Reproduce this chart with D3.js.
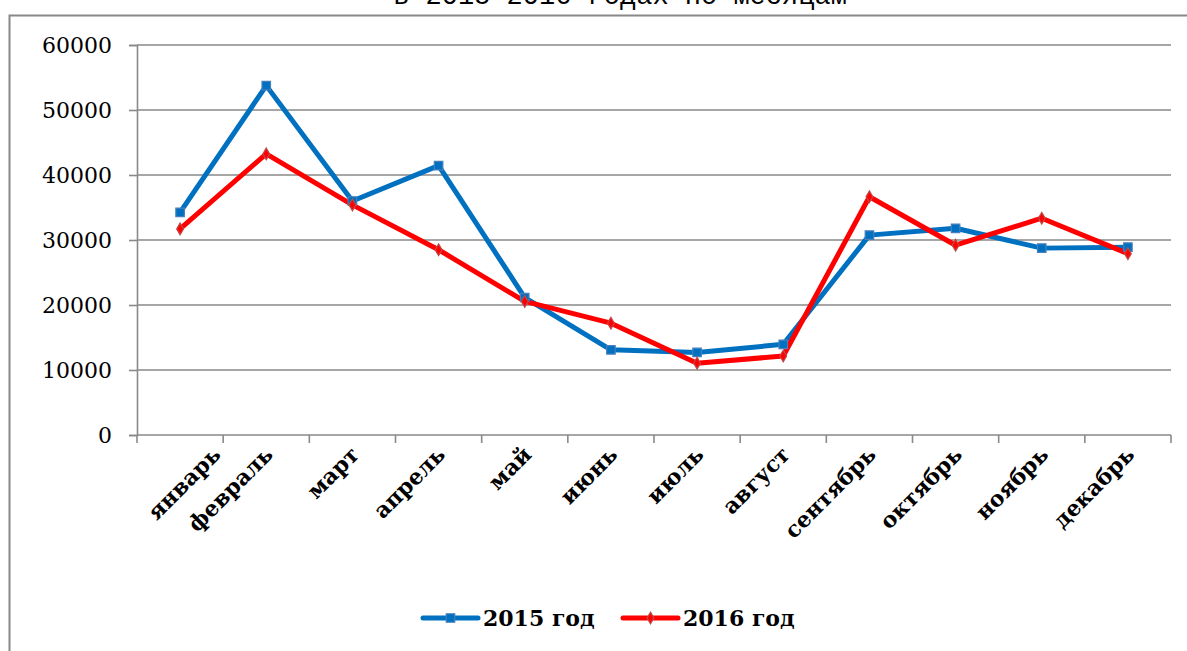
<!DOCTYPE html>
<html><head><meta charset="utf-8">
<script src="https://cdn.jsdelivr.net/npm/d3@7"></script>
<style>
html,body{margin:0;padding:0;background:#fff;overflow:hidden;}
svg{display:block;}
</style></head>
<body>
<svg id="chart" width="1187" height="651"></svg>
<script>
const titleText = "в 2015-2016 годах по месяцам";
const months = ["январь","февраль","март","апрель","май","июнь","июль","август","сентябрь","октябрь","ноябрь","декабрь"];
const values2015 = [34250, 53750, 36000, 41450, 21150, 13100, 12700, 13950, 30750, 31800, 28750, 28900];
const values2016 = [31700, 43250, 35400, 28500, 20550, 17200, 11050, 12150, 36650, 29200, 33350, 27900];
const yTicks = [0, 10000, 20000, 30000, 40000, 50000, 60000];
const seriesNames = ["2015 год", "2016 год"];

const svg = d3.select("#chart");
const gridColor = "#898989";
const blue = "#0070C0", red = "#FF0000";

// frame
svg.append("rect").attr("x", 9.5).attr("y", 15.5).attr("width", 1300).attr("height", 800)
  .attr("fill", "none").attr("stroke", "#888").attr("stroke-width", 2);

// title (mostly cut off at top, as in the reference)
svg.append("text").attr("x", 620).attr("y", 4).attr("text-anchor", "middle")
  .attr("font-family", "Liberation Mono, monospace").attr("font-size", 27)
  .attr("fill", "#000").text(titleText);

const x = d3.scaleBand().domain(months).range([137, 1171]).paddingInner(0).paddingOuter(0);
const y = d3.scaleLinear().domain([0, 60000]).range([435, 45]);

// gridlines
svg.append("g").selectAll("line").data(yTicks.filter(d => d > 0)).join("line")
  .attr("x1", 137).attr("x2", 1171)
  .attr("y1", d => y(d)).attr("y2", d => y(d))
  .attr("stroke", gridColor).attr("stroke-width", 1.6);

// y axis
const yAxis = svg.append("g").attr("transform", "translate(137,0)")
  .call(d3.axisLeft(y).tickValues(yTicks).tickSize(8).tickPadding(17).tickFormat(d3.format("d")));
yAxis.select(".domain").attr("stroke", gridColor).attr("stroke-width", 1.6);
yAxis.selectAll(".tick line").attr("stroke", gridColor).attr("stroke-width", 1.6);
yAxis.selectAll(".tick text").attr("font-family", "DejaVu Serif, serif").attr("font-size", 22)
  .attr("fill", "#000").attr("dy", "0.36em");

// x axis line + ticks at band edges
const edges = months.map(m => x(m)).concat([x.range()[1]]);
svg.append("line").attr("x1", 137).attr("x2", 1171).attr("y1", y(0)).attr("y2", y(0))
  .attr("stroke", gridColor).attr("stroke-width", 1.6);
svg.append("g").selectAll("line").data(edges).join("line")
  .attr("x1", d => d).attr("x2", d => d).attr("y1", y(0)).attr("y2", y(0) + 8)
  .attr("stroke", gridColor).attr("stroke-width", 1.6);

// x labels rotated (first label nudged right like the original)
svg.append("g").selectAll("text").data(months).join("text")
  .attr("transform", (d, i) => `translate(${x(d) + x.bandwidth() / 2 + 8 + (i === 0 ? 34 : 0)},${y(0) + 21}) rotate(-45)`)
  .attr("text-anchor", "end")
  .attr("font-family", "DejaVu Serif, serif").attr("font-weight", "bold").attr("font-size", 22)
  .attr("fill", "#000").text(d => d);

const cx = d => x(d) + x.bandwidth() / 2;
const line = d3.line().x((d, i) => cx(months[i])).y(d => y(d));

svg.append("path").datum(values2015).attr("d", line).attr("fill", "none")
  .attr("stroke", blue).attr("stroke-width", 5).attr("stroke-linejoin", "round").attr("stroke-linecap", "round");
svg.append("path").datum(values2016).attr("d", line).attr("fill", "none")
  .attr("stroke", red).attr("stroke-width", 5).attr("stroke-linejoin", "round").attr("stroke-linecap", "round");

// markers
const square = d3.symbol().type(d3.symbolSquare).size(72);
const diamond = d3.symbol().type(d3.symbolDiamond).size(40);
svg.append("g").selectAll("path").data(values2015).join("path")
  .attr("d", square).attr("transform", (d, i) => `translate(${cx(months[i])},${y(d)})`)
  .attr("fill", blue).attr("stroke", "#4A7EBB").attr("stroke-width", 1.2);
svg.append("g").selectAll("path").data(values2016).join("path")
  .attr("d", diamond).attr("transform", (d, i) => `translate(${cx(months[i])},${y(d)})`)
  .attr("fill", red).attr("stroke", "#BE4B48").attr("stroke-width", 1.2);

// legend
const legend = svg.append("g");
const legItems = [
  {name: seriesNames[0], color: blue, x0: 423, sym: square, symStroke: "#4A7EBB"},
  {name: seriesNames[1], color: red, x0: 623, sym: diamond, symStroke: "#BE4B48"}
];
legItems.forEach(it => {
  legend.append("line").attr("x1", it.x0).attr("x2", it.x0 + 55).attr("y1", 618).attr("y2", 618)
    .attr("stroke", it.color).attr("stroke-width", 5).attr("stroke-linecap", "round");
  legend.append("path").attr("d", it.sym).attr("transform", `translate(${it.x0 + 27.5},618)`)
    .attr("fill", it.color).attr("stroke", it.symStroke).attr("stroke-width", 1.2);
  legend.append("text").attr("x", it.x0 + 60).attr("y", 626)
    .attr("font-family", "DejaVu Serif, serif").attr("font-weight", "bold").attr("font-size", 22)
    .attr("fill", "#000").text(it.name);
});
</script>
</body></html>
